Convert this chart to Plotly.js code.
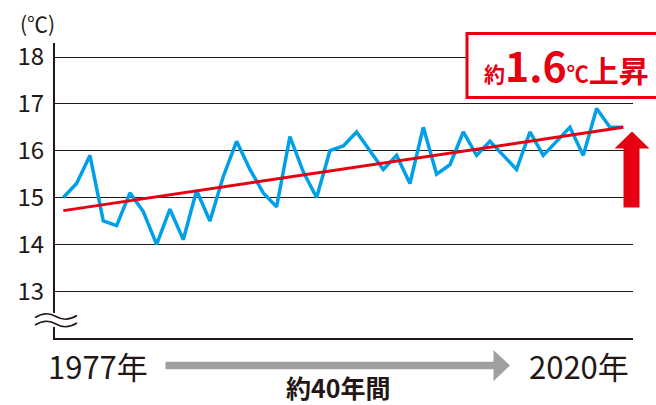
<!DOCTYPE html>
<html>
<head>
<meta charset="utf-8">
<script src="https://cdn.plot.ly/plotly-3.0.1.min.js"></script>
<style>html,body{margin:0;padding:0;background:#fff;}#chart{width:656px;height:405px;}</style>
</head>
<body>
<div id="chart"></div>
<script>
// ---- data ----
const years = [1977,1978,1979,1980,1981,1982,1983,1984,1985,1986,1987,1988,1989,1990,1991,1992,1993,1994,1995,1996,1997,1998,1999,2000,2001,2002,2003,2004,2005,2006,2007,2008,2009,2010,2011,2012,2013,2014,2015,2016,2017,2018,2019];
const temps = [15.0,15.3,15.9,14.5,14.4,15.1,14.7,14.0,14.75,14.1,15.15,14.5,15.45,16.2,15.6,15.1,14.8,16.3,15.55,15.0,16.0,16.1,16.4,16.0,15.6,15.9,15.3,16.5,15.5,15.7,16.4,15.9,16.2,15.9,15.6,16.4,15.9,16.2,16.5,15.9,16.9,16.5,16.5];
const trendYears = [1977, 2019];
const trendVals = [14.72, 16.5];
const yTicks = [13,14,15,16,17,18];
const startLabel = '1977年';
const endLabel = '2020年';
const spanLabel = '約40年間';
const riseLabel = '<span style="font-size:21px">約</span><span style="font-size:41px">1.6</span><span style="font-size:22px">℃</span><span style="font-size:30px">上昇</span>';
const unitLabel = '(℃)';

// ---- layout helpers (pixel -> paper) ----
const L = 55, R = 23, T = 43, B = 67, W = 656, H = 405;
const PW = W - L - R, PH = H - T - B;
const px = x => (x - L) / PW;
const py = y => (H - B - y) / PH;

const dark = '#231815', blue = '#00a0e9', red = '#e60012', gray = '#a0a0a0';
const font = '"Noto Sans CJK JP", "Noto Sans", sans-serif';

const traces = [
  {x: years, y: temps, type: 'scatter', mode: 'lines', line: {color: blue, width: 3.5}, hoverinfo: 'skip'},
  {x: trendYears, y: trendVals, type: 'scatter', mode: 'lines', line: {color: red, width: 3}, hoverinfo: 'skip'}
];

const layout = {
  width: W, height: H,
  margin: {l: L, r: R, t: T, b: B, pad: 0},
  paper_bgcolor: '#fff', plot_bgcolor: '#fff',
  showlegend: false, hovermode: false,
  font: {family: font, color: dark},
  xaxis: {range: [1976.38, 2019.73], showgrid: false, zeroline: false, showticklabels: false, ticks: '',
          showline: true, linecolor: dark, linewidth: 2, fixedrange: true},
  yaxis: {range: [12, 18.3], tickvals: yTicks, ticktext: yTicks.map(String), showgrid: true, gridcolor: dark, gridwidth: 1,
          zeroline: false, showline: true, linecolor: dark, linewidth: 2, ticks: '', ticklabelstandoff: 4,
          tickfont: {size: 24, color: dark, family: font}, fixedrange: true},
  shapes: [
    // hide axis at the break
    {type: 'rect', xref: 'paper', yref: 'paper', x0: px(50), x1: px(60), y0: py(327), y1: py(313),
     line: {width: 0}, fillcolor: '#fff', layer: 'above'},
    // break marks
    {type: 'path', xref: 'paper', yref: 'paper', xsizemode: 'pixel', ysizemode: 'pixel',
     xanchor: px(35), yanchor: py(316.5), path: 'M0,-1 C8,4 14,4 21,0 S34,-4 42,1',
     line: {color: dark, width: 1.5}, layer: 'above'},
    {type: 'path', xref: 'paper', yref: 'paper', xsizemode: 'pixel', ysizemode: 'pixel',
     xanchor: px(35), yanchor: py(324), path: 'M0,-1 C8,4 14,4 21,0 S34,-4 42,1',
     line: {color: dark, width: 1.5}, layer: 'above'},
    // red box
    {type: 'rect', xref: 'paper', yref: 'paper', x0: px(467), x1: px(660), y0: py(97.5), y1: py(33.5),
     line: {color: red, width: 3}, fillcolor: '#fff', layer: 'above'},
    // red up arrow
    {type: 'path', xref: 'paper', yref: 'paper', xsizemode: 'pixel', ysizemode: 'pixel',
     xanchor: px(614.5), yanchor: py(207.5),
     path: 'M9,0 L25,0 L25,59 L35,59 L17.5,76 L0,59 L9,59 Z',
     line: {width: 0}, fillcolor: red, layer: 'above'},
    // gray right arrow
    {type: 'path', xref: 'paper', yref: 'paper', xsizemode: 'pixel', ysizemode: 'pixel',
     xanchor: px(165.5), yanchor: py(365.5),
     path: 'M0,-3.8 L328,-3.8 L328,-15.5 L344.5,0 L328,15.5 L328,3.8 L0,3.8 Z',
     line: {width: 0}, fillcolor: gray, layer: 'above'}
  ],
  annotations: [
    {text: unitLabel, xref: 'paper', yref: 'paper', x: px(37), y: py(23), showarrow: false,
     xanchor: 'center', yanchor: 'middle', font: {size: 21, color: dark, family: font}},
    {text: riseLabel, xref: 'paper', yref: 'paper', x: px(482), y: py(64), showarrow: false,
     xanchor: 'left', yanchor: 'middle', font: {size: 28, color: red, family: font, weight: 'bold'}},
    {text: startLabel, xref: 'paper', yref: 'paper', x: px(98), y: py(365), showarrow: false,
     xanchor: 'center', yanchor: 'middle', font: {size: 31, color: dark, family: font}},
    {text: endLabel, xref: 'paper', yref: 'paper', x: px(579), y: py(365), showarrow: false,
     xanchor: 'center', yanchor: 'middle', font: {size: 31, color: dark, family: font}},
    {text: spanLabel, xref: 'paper', yref: 'paper', x: px(338), y: py(387), showarrow: false,
     xanchor: 'center', yanchor: 'middle', font: {size: 25, color: dark, family: font, weight: 'bold'}}
  ]
};

Plotly.newPlot('chart', traces, layout, {staticPlot: true, displayModeBar: false});
</script>
</body>
</html>
